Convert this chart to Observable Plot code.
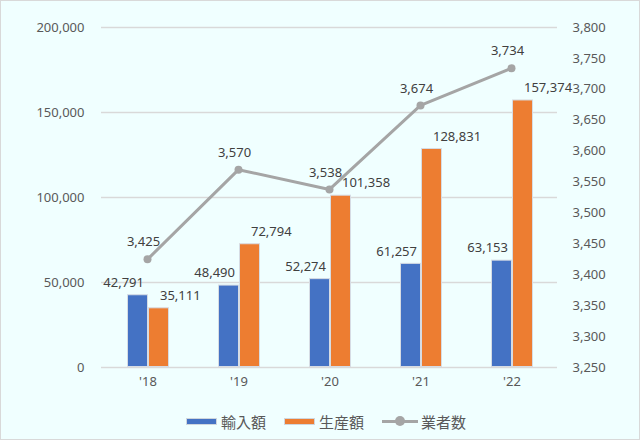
<!DOCTYPE html>
<html>
<head>
<meta charset="utf-8">
<script src="https://cdn.jsdelivr.net/npm/d3@7"></script>
<script src="https://cdn.jsdelivr.net/npm/@observablehq/plot@0.6"></script>
<style>
  html, body { margin: 0; padding: 0; background: #F0FFFF; }
  #wrap { position: relative; width: 640px; height: 440px; background: #F0FFFF; overflow: hidden; }
  #wrap > svg { position: absolute; left: 0; top: 0; }
  #frame { position: absolute; left: 0; top: 0; width: 638px; height: 438px; border: 1px solid #D9D9D9; pointer-events: none; }
  #legend { position: absolute; left: 186px; top: 410px; height: 22px; display: flex; align-items: center;
            font-family: "Noto Sans CJK JP", "Noto Sans", sans-serif; font-size: 15px; color: #595959; }
  .sw { display: inline-block; width: 31px; height: 7px; margin-right: 4px; box-sizing: border-box; border: 1px solid #cfd6dd; }
  .item { display: flex; align-items: center; margin-right: 18px; }
  .lsw { position: relative; width: 36px; height: 10px; margin-right: 3px; }
  .lsw::before { content: ""; position: absolute; left: 0; right: 0; top: 3.5px; height: 3px; background: #A5A5A5; }
  .lsw::after { content: ""; position: absolute; left: 13px; top: 0; width: 10px; height: 10px; border-radius: 50%; background: #A5A5A5; }
</style>
</head>
<body>
<div id="wrap"><div id="legend"></div><div id="frame"></div></div>
<script>
const years = ["'18", "'19", "'20", "'21", "'22"];
const imports = [42791, 48490, 52274, 61257, 63153];      // 輸入額
const production = [35111, 72794, 101358, 128831, 157374]; // 生産額
const businesses = [3425, 3570, 3538, 3674, 3734];         // 業者数
const seriesNames = ["輸入額", "生産額", "業者数"];
const seriesColors = ["#4472C4", "#ED7D31", "#A5A5A5"];
const leftTicks = [0, 50000, 100000, 150000, 200000];
const rightTicks = [3250, 3300, 3350, 3400, 3450, 3500, 3550, 3600, 3650, 3700, 3750, 3800];

const fmt = d3.format(",");
const W = 640, H = 400;
const M = {marginTop: 27, marginBottom: 33, marginLeft: 101, marginRight: 83};
const numFont = {background: "transparent", fontFamily: "'Noto Sans', sans-serif", fontSize: "13px", color: "#595959"};

const barRows = years.flatMap((y, i) => [
  {year: y, series: seriesNames[0], value: imports[i]},
  {year: y, series: seriesNames[1], value: production[i]}
]);
const lineRows = years.map((y, i) => ({year: y, value: businesses[i]}));

const wrap = document.getElementById("wrap");

// Layer 0: grid + left axis
const gridPlot = Plot.plot({
  width: W, height: H, ...M, style: numFont,
  x: {axis: null},
  y: {domain: [0, 200000], axis: null},
  marks: [
    Plot.gridY(leftTicks, {stroke: "#D9D9D9", strokeOpacity: 1, strokeWidth: 1.3}),
    Plot.axisY(leftTicks, {anchor: "left", tickSize: 0, tickPadding: 17, tickFormat: fmt, label: null, fill: "#595959"})
  ]
});

// Layer 1: grouped bars
const barPlot = Plot.plot({
  width: W, height: H, ...M, style: numFont,
  fx: {domain: years, padding: 0, label: null, axis: "bottom", tickSize: 0, tickPadding: 9},
  x: {domain: seriesNames.slice(0, 2), paddingInner: 0, paddingOuter: 1.12, axis: null},
  y: {domain: [0, 200000], axis: null},
  color: {domain: seriesNames.slice(0, 2), range: seriesColors.slice(0, 2)},
  marks: [
    Plot.barY(barRows, {fx: "year", x: "series", y: "value", fill: "series", stroke: "#D6DCE4", strokeWidth: 1, inset: 0.5}),
    Plot.text(barRows.filter(d => d.series === seriesNames[0]), {fx: "year", x: "series", y: "value", text: d => fmt(d.value), textAnchor: "end", dx: 6, dy: -12, fill: "#404040", fontSize: 13}),
    Plot.text(barRows.filter(d => d.series === seriesNames[1]), {fx: "year", x: "series", y: "value", text: d => fmt(d.value), textAnchor: "start", dx: 1, dy: -12, fill: "#404040", fontSize: 13})
  ]
});

// Layer 2: line on secondary axis
const linePlot = Plot.plot({
  width: W, height: H, ...M, style: numFont,
  x: {type: "point", domain: years, padding: 0.5, axis: null},
  y: {domain: [3250, 3800], axis: null},
  marks: [
    Plot.axisY(rightTicks, {anchor: "right", tickSize: 0, tickPadding: 15, tickFormat: fmt, label: null, fill: "#595959"}),
    Plot.line(lineRows, {x: "year", y: "value", stroke: seriesColors[2], strokeWidth: 3}),
    Plot.dot(lineRows, {x: "year", y: "value", r: 4, fill: seriesColors[2], stroke: "none"}),
    Plot.text(lineRows, {x: "year", y: "value", text: d => fmt(d.value), dx: -4, dy: -17, fill: "#404040", fontSize: 13})
  ]
});

wrap.insertBefore(linePlot, wrap.firstChild);
wrap.insertBefore(barPlot, wrap.firstChild);
wrap.insertBefore(gridPlot, wrap.firstChild);

// Legend
const legend = document.getElementById("legend");
seriesNames.forEach((name, i) => {
  const item = document.createElement("div");
  item.className = "item";
  const sw = document.createElement("span");
  if (i < 2) { sw.className = "sw"; sw.style.background = seriesColors[i]; }
  else { sw.className = "lsw"; }
  item.appendChild(sw);
  const t = document.createElement("span");
  t.textContent = name;
  item.appendChild(t);
  legend.appendChild(item);
});
</script>
</body>
</html>
